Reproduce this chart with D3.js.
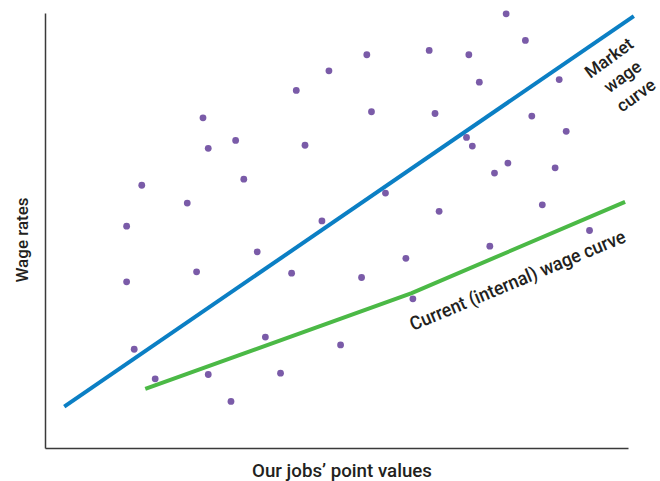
<!DOCTYPE html>
<html>
<head>
<meta charset="utf-8">
<script src="https://cdn.jsdelivr.net/npm/d3@7"></script>
<style>
  html, body { margin: 0; padding: 0; background: #fff; }
  text { font-family: "Roboto", "Liberation Sans", sans-serif; fill: #231f20; }
</style>
</head>
<body>
<svg id="chart" width="660" height="481"></svg>
<script>
// Scatter of jobs: point value (x) vs wage rate (y), arbitrary 0-100 units
const pointX = [14.0, 16.6, 24.4, 27.1, 28.0, 32.7, 34.1, 43.1, 44.6, 48.7, 47.5, 55.2, 56.0, 65.9, 66.9, 72.7,
  74.5, 79.1, 82.4, 88.2, 83.5, 89.4, 72.3, 73.3, 79.4, 77.1, 87.5, 58.4, 67.6, 85.3, 93.4, 14.0,
  26.0, 36.4, 42.3, 15.3, 18.9, 28.0, 31.9, 37.8, 40.4, 76.3, 61.9, 54.3, 63.1, 50.7];
const pointY = [51.0, 60.4, 56.3, 75.9, 68.9, 70.7, 61.8, 82.2, 69.6, 86.7, 52.2, 90.4, 77.3, 91.4, 76.9, 90.4,
  84.1, 99.8, 93.7, 84.7, 76.3, 72.8, 71.4, 69.4, 65.5, 63.2, 64.4, 58.6, 54.4, 55.9, 50.0, 38.2,
  40.5, 45.1, 40.2, 22.7, 15.9, 16.9, 10.7, 25.5, 17.2, 46.4, 43.6, 39.2, 34.3, 23.7];
// Market wage curve
const marketX = [3.3, 101.0];
const marketY = [9.5, 99.3];
// Current (internal) wage curve
const currentX = [17.2, 62.9, 99.5];
const currentY = [13.6, 35.6, 56.6];
// Labels
const marketLabel = ["Market", "wage", "curve"];
const currentLabel = "Current (internal) wage curve";
const xTitle = "Our jobs\u2019 point values";
const yTitle = "Wage rates";

const svg = d3.select("#chart");
const x = d3.scaleLinear().domain([0, 100]).range([45, 628]);
const y = d3.scaleLinear().domain([0, 100]).range([448, 13]);

// Axes (no ticks)
const xAxis = d3.axisBottom(x).tickValues([]).tickSizeOuter(0);
const yAxis = d3.axisLeft(y).tickValues([]).tickSizeOuter(0);
svg.append("g").attr("transform", `translate(0,${y(0)})`).call(xAxis)
  .select(".domain").attr("stroke", "#3a3a3a").attr("stroke-width", 1.5);
svg.append("g").attr("transform", `translate(${x(0)},0)`).call(yAxis)
  .select(".domain").attr("stroke", "#3a3a3a").attr("stroke-width", 1.5);

// Points
svg.append("g").selectAll("circle")
  .data(pointX.map((v, i) => [v, pointY[i]]))
  .join("circle")
  .attr("cx", d => x(d[0]))
  .attr("cy", d => y(d[1]))
  .attr("r", 3.4)
  .attr("fill", "#7a5ba8");

const line = d3.line().x(d => x(d[0])).y(d => y(d[1]));
svg.append("path")
  .datum(marketX.map((v, i) => [v, marketY[i]]))
  .attr("d", line).attr("fill", "none")
  .attr("stroke", "#0b7fc4").attr("stroke-width", 4);
svg.append("path")
  .datum(currentX.map((v, i) => [v, currentY[i]]))
  .attr("d", line).attr("fill", "none")
  .attr("stroke", "#4bb946").attr("stroke-width", 4);

// Curve labels
const mk = svg.append("text")
  .attr("transform", "translate(609,58) rotate(-36)")
  .attr("text-anchor", "middle")
  .style("font-size", "17.5px").style("font-weight", "500");
marketLabel.forEach((t, i) => {
  mk.append("tspan").attr("x", 0).attr("y", i * 23 + 6).text(t);
});

svg.append("text")
  .attr("transform", "translate(413,331) rotate(-22.7)")
  .attr("textLength", 232).attr("lengthAdjust", "spacingAndGlyphs")
  .style("font-size", "19px").style("font-weight", "500")
  .text(currentLabel);

// Axis titles
svg.append("text")
  .attr("transform", "translate(28,240) rotate(-90)")
  .attr("text-anchor", "middle")
  .style("font-size", "17px").style("font-weight", "500")
  .text(yTitle);
svg.append("text")
  .attr("x", 342).attr("y", 477)
  .attr("text-anchor", "middle")
  .attr("textLength", 180).attr("lengthAdjust", "spacingAndGlyphs")
  .style("font-size", "18px").style("font-weight", "500")
  .text(xTitle);
</script>
</body>
</html>
